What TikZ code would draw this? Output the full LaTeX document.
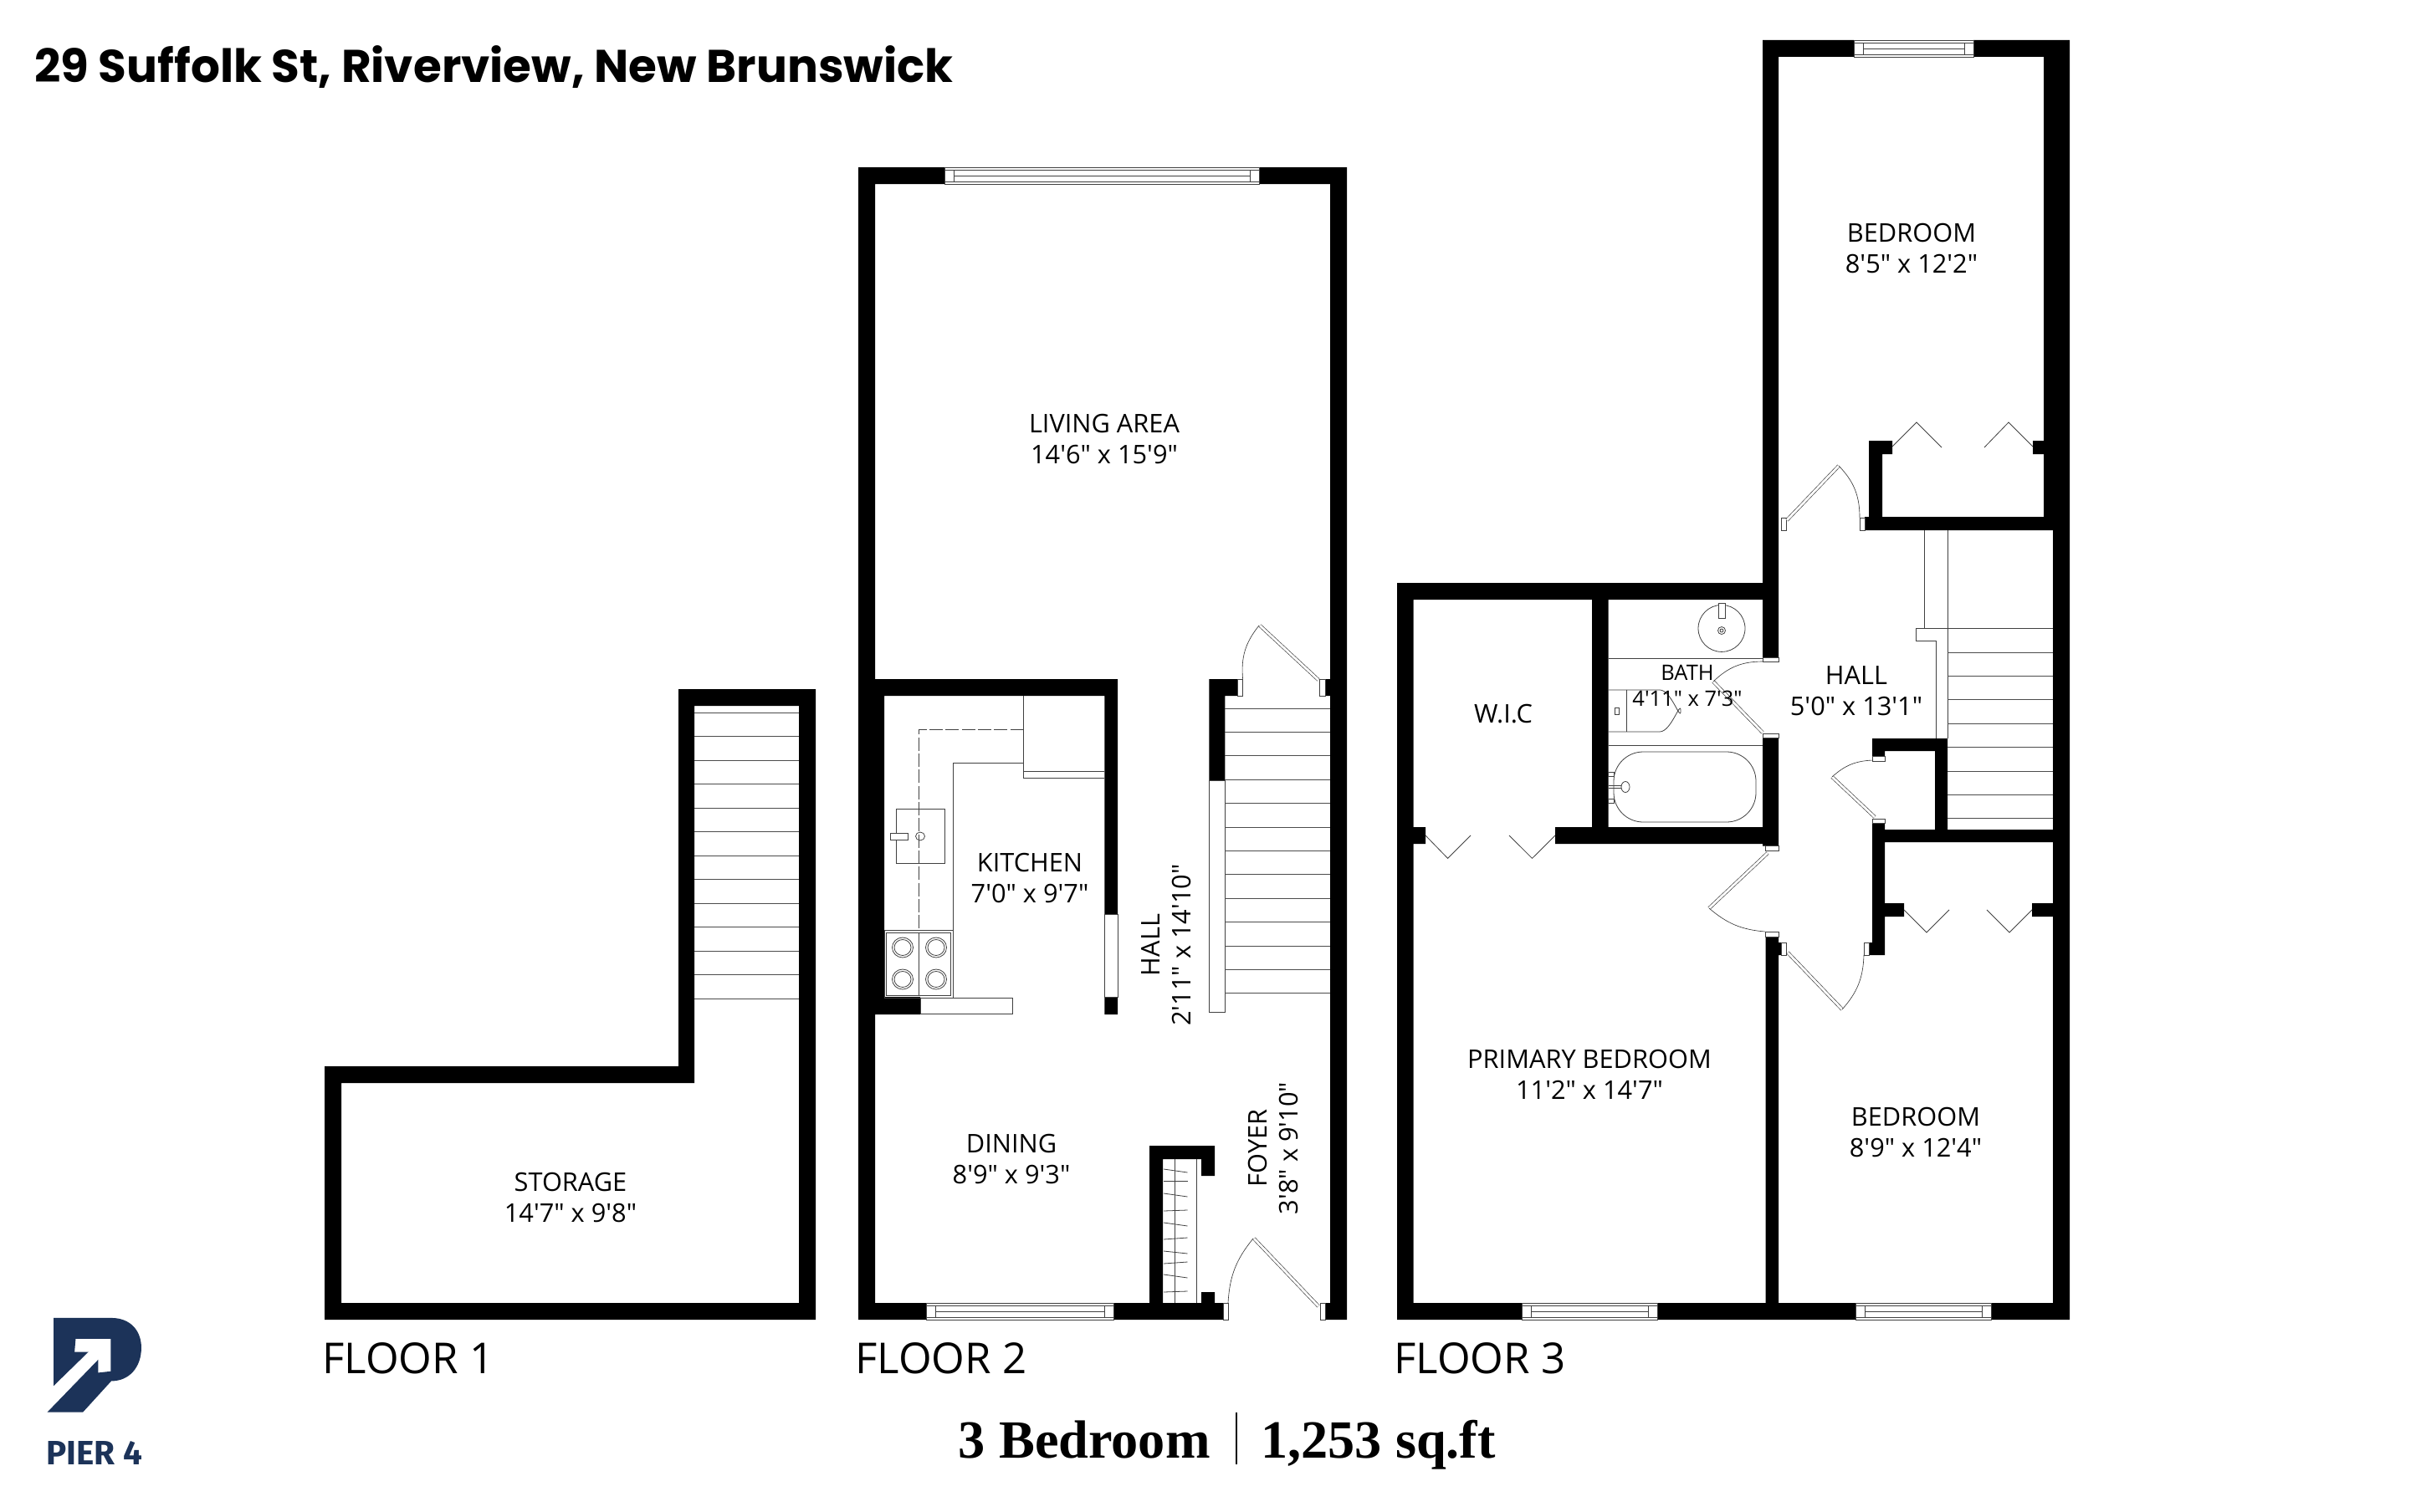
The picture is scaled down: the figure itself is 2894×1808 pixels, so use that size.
\documentclass[tikz,border=0pt]{standalone}
\usepackage{fontspec}
\setmainfont{Open Sans}
\newfontfamily\roomfont{Open Sans}
\newfontfamily\titlefont{Poppins}
\newfontfamily\totalfont{Liberation Serif}
\newfontfamily\logofont{Fira Sans}
\definecolor{pierblue}{HTML}{1C3359}
\tikzset{
  wall/.style={fill=black},
  fine/.style={draw=black!75,line width=0.45pt},
  jamb/.style={fine,fill=white},
  stairline/.style={draw=black!70,line width=0.5pt},
  leaf/.style={draw=black!80,line width=0.35pt,double=white,double distance=1.6pt},
  swing/.style={draw=black!80,line width=0.35pt},
  roomlabel/.style={font=\roomfont\fontsize{17.5}{21}\selectfont,align=center,inner sep=0pt,text=black},
  floorlabel/.style={font=\roomfont\fontsize{29}{32}\selectfont,anchor=base west,inner sep=0pt},
}
% window in a horizontal wall: x1, x2, y1, y2
\newcommand{\wallwindow}[4]{
  \draw[fine,fill=white] (#1,#3) rectangle (#2,#4);
  \draw[fine] (#1,#3+3) -- (#2,#3+3);
  \draw[fine] (#1,#4-3) -- (#2,#4-3);
  \draw[fine] (#1+11,#3+3) -- (#1+11,#4-3);
  \draw[fine] (#2-11,#3+3) -- (#2-11,#4-3);
  \draw[fine] (#1+11,#3/2+#4/2) -- (#2-11,#3/2+#4/2);
}
\begin{document}
\begin{tikzpicture}[x=0.02cm,y=-0.02cm]
\useasboundingbox (0,0) rectangle (2894,1808);
\fill[white] (0,0) rectangle (2894,1808);

\node (title) [font=\titlefont\bfseries\fontsize{31.2}{34}\selectfont,anchor=base west,inner sep=0pt] at (41,99) {29 Suffolk St, Riverview, New Brunswick};

% floor 1
\fill[wall] (811,824) rectangle (975,844) (811,824) rectangle (830,1295)
  (388,1275) rectangle (830,1295) (388,1275) rectangle (408,1578)
  (388,1558) rectangle (975,1578) (955,824) rectangle (975,1578);
\foreach \n in {0,...,12}
  \draw[stairline] (830,852+28.5*\n) -- (955,852+28.5*\n);
\node (storage) [roomlabel] at (682,1432) {STORAGE\\14'7" x 9'8"};
\node (floorone) [floorlabel] at (385,1642) {FLOOR 1};

% floor 2
\fill[wall] (1026,200) rectangle (1129,220) (1505,200) rectangle (1610,220)
  (1026,200) rectangle (1046,1578) (1590,200) rectangle (1610,1578)
  (1026,1558) rectangle (1107.5,1578) (1331.5,1558) rectangle (1462,1578)
  (1584,1558) rectangle (1610,1578)
  (1046,812) rectangle (1336,832) (1046,832) rectangle (1057,1213)
  (1057,1192) rectangle (1100,1213) (1320.4,812) rectangle (1336,1093)
  (1320.4,1192) rectangle (1336,1213)
  (1445.3,812) rectangle (1479.6,832) (1445.3,812) rectangle (1464.4,933)
  (1584,812) rectangle (1590,832)
  (1374,1370) rectangle (1390,1558) (1374,1370) rectangle (1452,1386)
  (1436,1370) rectangle (1452,1406) (1436,1545) rectangle (1452,1558);
\wallwindow{1129}{1505}{200}{220}
\wallwindow{1107.5}{1331.5}{1558}{1578}
\draw[fine,fill=white] (1320.4,1093) rectangle (1336,1192);
\draw[fine,fill=white] (1100,1193) rectangle (1210,1212);
\draw[fine,fill=white] (1445.3,933) rectangle (1464.4,1210);
% kitchen
\draw[fine] (1139,1193) -- (1139,912) -- (1223.5,912);
\draw[fine] (1223.5,832) -- (1223.5,930) -- (1320.4,930);
\draw[fine] (1223.5,922) -- (1320.4,922);
\draw[fine,dashed,dash pattern=on 9pt off 2pt] (1223.5,872) -- (1098,872) -- (1098,1112);
\draw[fine] (1071,967) rectangle (1129,1032);
\draw[fine,fill=white] (1064.6,996) rectangle (1085,1004);
\draw[fine] (1100,1000) ellipse (5.5 and 5);
\draw[fine] (1057,1112) rectangle (1139,1193);
\draw[fine] (1059.6,1115.5) rectangle (1136.5,1190);
\draw[fine] (1098,1115.5) -- (1098,1190);
\foreach \x in {1079,1119}
  \foreach \y in {1133,1171} {
    \draw[fine,fill=white] (\x,\y) ellipse (12.5 and 12);
    \draw[fine] (\x,\y) ellipse (10 and 9.5);
  }
\foreach \n in {0,...,12}
  \draw[stairline] (1464.4,847+28.4*\n) -- (1590,847+28.4*\n);
% closet
\draw[fine] (1404,1386) -- (1404,1558);
\draw[fine] (1430,1386) -- (1430,1558);
\foreach \a/\b in {1398/1402,1412/1412,1427/1431,1448/1447,1462/1466,1482/1480,1496/1499,1511/1509,1524/1528,1545/1544}
  \draw[fine] (1391,\a) -- (1419.5,\b);
% doors
\draw[jamb] (1479.6,812) rectangle (1485.6,832) (1577,812) rectangle (1584,832);
\draw[leaf] (1576,813) -- (1506,748);
\draw[swing] (1485.6,812) to[bend left=22] (1505,748);
\draw[jamb] (1462,1558) rectangle (1468,1578) (1578,1558) rectangle (1584,1578);
\draw[leaf] (1576,1562) -- (1499,1481);
\draw[swing] (1468,1558) to[bend left=18] (1498,1481);
\node (living) [roomlabel] at (1320,525) {LIVING AREA\\14'6" x 15'9"};
\node (kitchen) [roomlabel] at (1231,1050) {KITCHEN\\7'0" x 9'7"};
\node (hallup) [roomlabel,rotate=90] at (1394,1130) {HALL\\2'11" x 14'10"};
\node (dining) [roomlabel] at (1209,1386) {DINING\\8'9" x 9'3"};
\node (foyer) [roomlabel,rotate=90] at (1522,1373) {FOYER\\3'8" x 9'10"};
\node (floortwo) [floorlabel] at (1022,1642) {FLOOR 2};

% floor 3
\fill[wall] (1670,697) rectangle (2107,717) (1670,697) rectangle (1689.6,1578)
  (1689,989) rectangle (1704,1009) (1859,989) rectangle (2126,1009)
  (1903,717) rectangle (1922.5,989)
  (2107,48) rectangle (2126,786.4) (2107,882) rectangle (2126,1011.7)
  (2110.7,1120) rectangle (2126,1578) (2126,1127) rectangle (2129,1142)
  (1670,1558) rectangle (1819,1578) (1981,1558) rectangle (2218,1578)
  (2380,1558) rectangle (2474,1578)
  (2107,48) rectangle (2216,68) (2359,48) rectangle (2474,68)
  (2443,48) rectangle (2474,634) (2454,634) rectangle (2474,1578)
  (2234,527) rectangle (2250,634) (2234,527) rectangle (2262,543)
  (2430,527) rectangle (2443,543) (2229,618) rectangle (2454,634)
  (2238,883) rectangle (2328,898) (2238,883) rectangle (2253,904)
  (2313,883) rectangle (2328,1007)
  (2238,984) rectangle (2253,1142) (2234,1127) rectangle (2253,1142)
  (2253,992) rectangle (2454,1007)
  (2253,1080) rectangle (2276,1096) (2429,1080) rectangle (2454,1096);
\wallwindow{2216}{2359}{48}{68}
\wallwindow{1819}{1981}{1558}{1578}
\wallwindow{2218}{2380}{1558}{1578}
% jambs and doors
\draw[jamb] (2107,786.4) rectangle (2126,791.4) (2107,877) rectangle (2126,882);
\draw[leaf] (2107,876) -- (2048,815);
\draw[swing] (2107,791) to[bend right=22] (2048,815);
\draw[jamb] (2110.7,1011.7) rectangle (2126,1017) (2110.7,1114) rectangle (2126,1120);
\draw[leaf] (2113,1020) -- (2043,1086);
\draw[swing] (2110,1114) to[bend left=18] (2043,1086);
\draw[jamb] (2129,619) rectangle (2135,634) (2223,619) rectangle (2229,634);
\draw[leaf] (2136,622) -- (2198,557);
\draw[swing] (2223,619) to[bend right=22] (2198,557);
\draw[jamb] (2238,904) rectangle (2253,910) (2238,979) rectangle (2253,984);
\draw[leaf] (2241,977) -- (2190,929);
\draw[swing] (2239,909) to[bend right=20] (2190,929);
\draw[jamb] (2129,1127) rectangle (2135,1142) (2228,1127) rectangle (2234,1142);
\draw[leaf] (2137,1139) -- (2202,1207);
\draw[swing] (2228,1142) to[bend left=20] (2202,1207);
% bifold doors
\draw[fine] (1704,999) -- (1730.6,1026.4) -- (1758,999);
\draw[fine] (1804,999) -- (1831.5,1026.4) -- (1859,999);
\draw[fine] (2262,534) -- (2291,505) -- (2321,535);
\draw[fine] (2372,535) -- (2401,505) -- (2430,534);
\draw[fine] (2276,1088) -- (2303,1115) -- (2330,1088);
\draw[fine] (2375,1088) -- (2402,1115) -- (2429,1088);
% stairs
\draw[fine] (2300,634) -- (2300,751);
\draw[fine] (2328,634) -- (2328,883);
\draw[fine] (2454,751) -- (2290,751) -- (2290,766) -- (2314,766) -- (2314,883);
\foreach \n in {0,...,7}
  \draw[stairline] (2328,780+28.4*\n) -- (2454,780+28.4*\n);
% bath
\draw[fine] (1922.5,787) -- (2107,787);
\draw[fine] (1922.5,891.4) -- (2107,891.4);
\draw[fine] (2058,751.4) circle (28);
\draw[fine,fill=white] (2054.4,721.4) rectangle (2062.7,739);
\draw[fine] (2058,754) circle (4.5) (2058,754) circle (2);
\draw[fine] (1922.5,825) -- (1984,825) to[out=0,in=-90] (2009,850) to[out=90,in=0] (1984,875) -- (1922.5,875);
\draw[fine] (1944.5,825) -- (1944.5,875);
\draw[fine] (1930.4,846) rectangle (1935.6,854);
\draw[fine,rounded corners=20] (1929,899) rectangle (2099,983);
\draw[fine,fill=white] (1922.5,923) rectangle (1929,928) (1922.5,955) rectangle (1929,960);
\draw[fine] (1922.5,939.5) -- (1939,939.5) (1922.5,942.5) -- (1939,942.5);
\draw[fine,fill=white] (1943,941) ellipse (5 and 6.5);
\node (wic) [roomlabel] at (1797,854) {W.I.C};
\node (bath) [roomlabel,font=\roomfont\fontsize{14.5}{17.5}\selectfont] at (2017,820) {BATH\\4'11" x 7'3"};
\node (halldown) [roomlabel] at (2219,826) {HALL\\5'0" x 13'1"};
\node (primary) [roomlabel] at (1900,1285) {PRIMARY BEDROOM\\11'2" x 14'7"};
\node (bedroomtop) [roomlabel] at (2285,297) {BEDROOM\\8'5" x 12'2"};
\node (bedroomlow) [roomlabel] at (2290,1354) {BEDROOM\\8'9" x 12'4"};
\node (floorthree) [floorlabel] at (1666,1642) {FLOOR 3};

% total
\node (totalrooms) [font=\totalfont\bfseries\fontsize{36.6}{40}\selectfont,anchor=base east,inner sep=0pt] at (1447,1743) {3 Bedroom};
\node (totalarea) [font=\totalfont\bfseries\fontsize{36.6}{40}\selectfont,anchor=base west,inner sep=0pt] at (1507,1743) {1,253 sq.ft};
\coordinate (divtop) at (1478,1689);
\coordinate (divend) at (1478,1751);
\draw[black,line width=0.9pt] (divtop) -- (divend);

% logo
\begin{scope}[shift={(0,1540)},x=0.00666cm,y=-0.00666cm]
\fill[pierblue] (193,108) -- (400,108) .. controls (470,108) and (508,155) .. (508,215)
  .. controls (508,285) and (465,335) .. (400,335) -- (298,447) -- (170,447) -- (353,258)
  -- (353,305) -- (398,300) -- (398,183) -- (272,183) -- (268,230) -- (318,230) -- (193,352) -- cycle;
\end{scope}
\node (pier) [font=\logofont\bfseries\fontsize{23}{26}\selectfont,text=pierblue,anchor=base west,inner sep=0pt] at (55,1751) {PIER 4};
\end{tikzpicture}
\end{document}
